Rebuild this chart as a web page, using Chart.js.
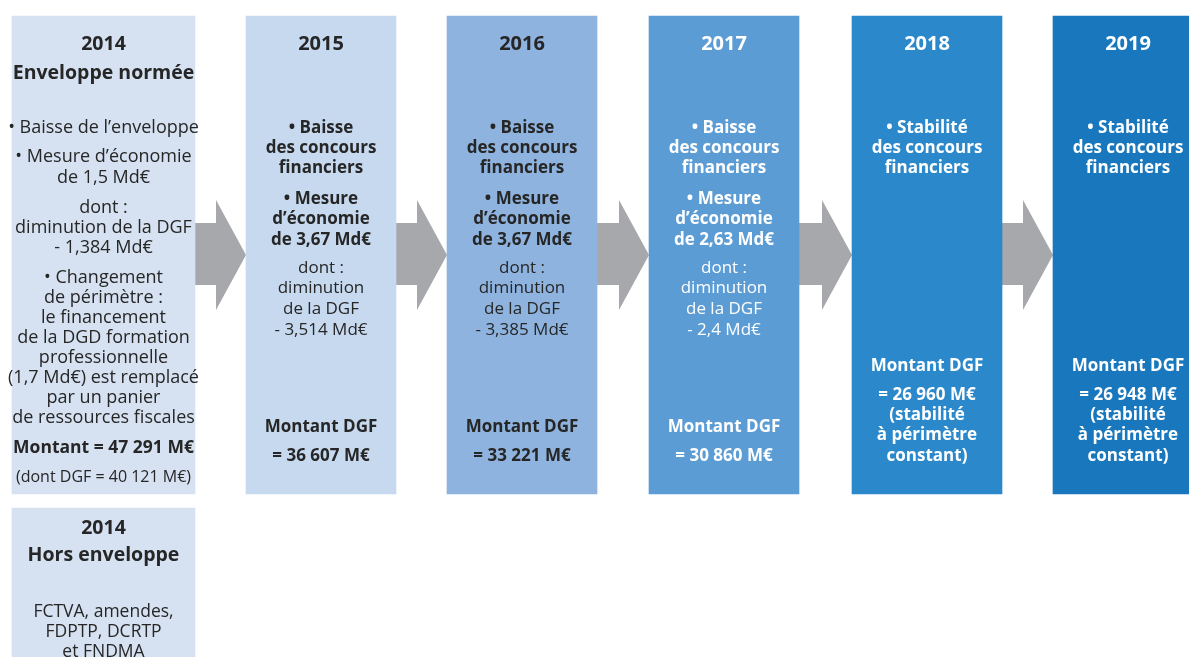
<!DOCTYPE html>
<html lang="fr">
<head>
<meta charset="UTF-8">
<title>Concours financiers 2014-2019</title>
<script src="https://cdn.jsdelivr.net/npm/chart.js"></script>
<style>
  body { margin: 0; background: #fff; }
  #wrap { width: 1189px; height: 657px; }
</style>
</head>
<body>
<div id="wrap"><canvas id="myChart" width="1189" height="657"></canvas></div>
<script>
const years = ['2014', '2015', '2016', '2017', '2018', '2019'];
const mesureEconomie = ['1,5', '3,67', '3,67', '2,63', null, null];      // Md€
const diminutionDGF = ['1,384', '3,514', '3,385', '2,4', null, null];    // Md€
const montantDGF = ['40 121', '36 607', '33 221', '30 860', '26 960', '26 948']; // M€
const montantEnveloppe2014 = '47 291';                                   // M€
const horsEnveloppe = ['FCTVA, amendes,', 'FDPTP, DCRTP', 'et FNDMA'];

// mise en page (unités des axes = pixels du canevas)
const layout = {
    left: [12, 246, 447, 649, 852, 1053],
    width: [183, 150, 150, 150, 150, 150],
    top: 16, bottom: 494,
    horsTop: 508, horsBottom: 690,
    fills: ['#d6e2f1', '#c6d9ef', '#8eb3de', '#5c9cd4', '#2b89cb', '#1877bd'],
    ink: ['#262626', '#262626', '#262626', '#ffffff', '#ffffff', '#ffffff'],
    arrow: '#a7a8ab'
};

const FONT = '"Open Sans", "Noto Sans", sans-serif';

// lignes de texte de chaque colonne : [texte, y, gras, taille]
const columnLines = (i) => {
    const y = years[i];
    if (i === 0) {
        return [
            [y, 44, true, 19.5],
            ['Enveloppe normée', 73, true, 19.5],
            ['• Baisse de l’enveloppe', 128, false, 18],
            ['• Mesure d’économie', 157, false, 18],
            ['de ' + mesureEconomie[i] + ' Md€', 178, false, 18],
            ['dont :', 208, false, 18],
            ['diminution de la DGF', 228, false, 18],
            ['- ' + diminutionDGF[i] + ' Md€', 248, false, 18],
            ['• Changement', 278, false, 18],
            ['de périmètre :', 298, false, 18],
            ['le financement', 318, false, 18],
            ['de la DGD formation', 338, false, 18],
            ['professionnelle', 358, false, 18],
            ['(1,7 Md€) est remplacé', 378, false, 18],
            ['par un panier', 398, false, 18],
            ['de ressources fiscales', 418, false, 18],
            ['Montant = ' + montantEnveloppe2014 + ' M€', 448, true, 17.5],
            ['(dont DGF = ' + montantDGF[i] + ' M€)', 477, false, 16]
        ];
    }
    if (mesureEconomie[i]) {
        return [
            [y, 44, true, 20],
            ['• Baisse', 128, true, 17],
            ['des concours', 148, true, 17],
            ['financiers', 168, true, 17],
            ['• Mesure', 199, true, 17],
            ['d’économie', 219, true, 17],
            ['de ' + mesureEconomie[i] + ' Md€', 240, true, 17],
            ['dont :', 268, false, 17],
            ['diminution', 288, false, 17],
            ['de la DGF', 309, false, 17],
            ['- ' + diminutionDGF[i] + ' Md€', 330, false, 17],
            ['Montant DGF', 427, true, 17],
            ['= ' + montantDGF[i] + ' M€', 456, true, 17]
        ];
    }
    return [
        [y, 44, true, 20],
        ['• Stabilité', 128, true, 17],
        ['des concours', 148, true, 17],
        ['financiers', 168, true, 17],
        ['Montant DGF', 366, true, 17],
        ['= ' + montantDGF[i] + ' M€', 395, true, 17],
        ['(stabilité', 415, true, 17],
        ['à périmètre', 435, true, 17],
        ['constant)', 456, true, 17]
    ];
};

const centerOf = (i) => layout.left[i] + layout.width[i] / 2;

// un jeu de données par année : une barre flottante
const datasets = years.map((year, i) => ({
    label: year,
    data: [{ x: centerOf(i), y: [layout.top, layout.bottom] }],
    backgroundColor: layout.fills[i],
    barThickness: layout.width[i],
    grouped: false
}));
datasets.push({
    label: '2014 Hors enveloppe',
    data: [{ x: centerOf(0), y: [layout.horsTop, layout.horsBottom] }],
    backgroundColor: layout.fills[0],
    barThickness: layout.width[0],
    grouped: false
});

// flèches grises entre les colonnes
const arrowsPlugin = {
    id: 'arrows',
    beforeDatasetsDraw(chart) {
        const { ctx, scales: { x, y } } = chart;
        ctx.save();
        ctx.fillStyle = layout.arrow;
        for (let i = 0; i < years.length - 1; i++) {
            const x0 = x.getPixelForValue(layout.left[i] + layout.width[i]);
            const x2 = x.getPixelForValue(layout.left[i + 1]);
            const x1 = x2 - 30;
            ctx.beginPath();
            ctx.moveTo(x0 - 2, y.getPixelForValue(223));
            ctx.lineTo(x1, y.getPixelForValue(223));
            ctx.lineTo(x1, y.getPixelForValue(200));
            ctx.lineTo(x2, y.getPixelForValue(255));
            ctx.lineTo(x1, y.getPixelForValue(310));
            ctx.lineTo(x1, y.getPixelForValue(285));
            ctx.lineTo(x0 - 2, y.getPixelForValue(285));
            ctx.closePath();
            ctx.fill();
        }
        ctx.restore();
    }
};

// textes des colonnes
const textPlugin = {
    id: 'columnText',
    afterDatasetsDraw(chart) {
        const { ctx, scales: { x, y } } = chart;
        ctx.save();
        ctx.textAlign = 'center';
        ctx.textBaseline = 'middle';
        years.forEach((year, i) => {
            ctx.fillStyle = layout.ink[i];
            const cx = x.getPixelForValue(centerOf(i));
            columnLines(i).forEach(([txt, ty, bold, size]) => {
                ctx.font = (bold ? 'bold ' : '') + size + 'px ' + FONT;
                ctx.fillText(txt, cx, y.getPixelForValue(ty));
            });
        });
        // encadré hors enveloppe
        ctx.fillStyle = layout.ink[0];
        const cx = x.getPixelForValue(centerOf(0));
        ctx.font = 'bold 19.5px ' + FONT;
        ctx.fillText(years[0], cx, y.getPixelForValue(528));
        ctx.fillText('Hors enveloppe', cx, y.getPixelForValue(555));
        ctx.font = '17.5px ' + FONT;
        horsEnveloppe.forEach((txt, k) => {
            ctx.fillText(txt, cx, y.getPixelForValue(612 + k * 20));
        });
        ctx.restore();
    }
};

new Chart(document.getElementById('myChart'), {
    type: 'bar',
    data: { datasets },
    options: {
        responsive: false,
        animation: false,
        events: [],
        layout: { padding: 0 },
        scales: {
            x: { type: 'linear', min: 0, max: 1189, offset: false, display: false },
            y: { type: 'linear', min: 0, max: 657, reverse: true, display: false }
        },
        plugins: {
            legend: { display: false },
            tooltip: { enabled: false }
        }
    },
    plugins: [arrowsPlugin, textPlugin]
});
</script>
</body>
</html>
